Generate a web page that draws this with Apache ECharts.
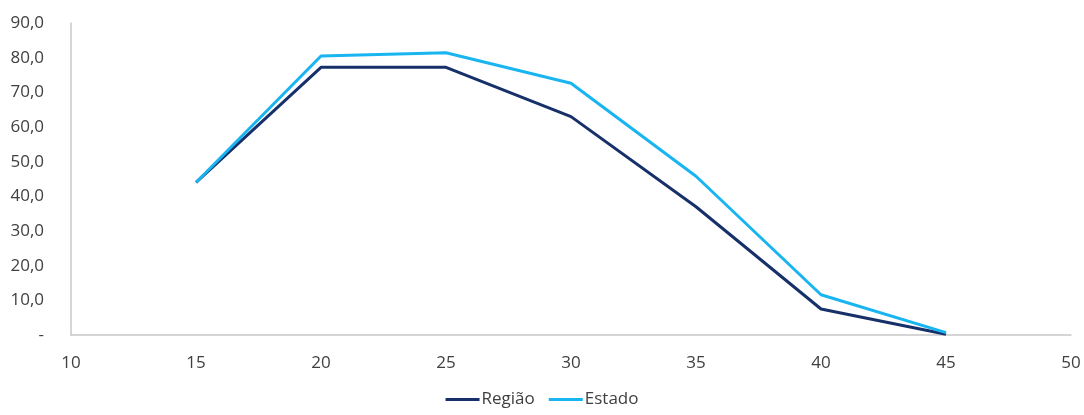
<!DOCTYPE html>
<html>
<head>
<meta charset="utf-8">
<script src="https://cdn.jsdelivr.net/npm/echarts@6/dist/echarts.min.js"></script>
<style>
  html, body { margin: 0; padding: 0; background: #fff; }
  #chart { width: 1084px; height: 415px; }
</style>
</head>
<body>
<div id="chart"></div>
<script>
var idades = [15, 20, 25, 30, 35, 40, 45];
var regiao = [44.0, 77.2, 77.2, 63.0, 37.0, 7.5, 0.2];
var estado = [44.0, 80.5, 81.4, 72.6, 45.8, 11.6, 0.7];

function pares(xs, ys) {
    return xs.map(function (x, i) { return [x, ys[i]]; });
}

var chart = echarts.init(document.getElementById('chart'));

var option = {
    animation: false,
    textStyle: { fontFamily: 'Open Sans' },
    grid: { left: 71, right: 13, top: 23, bottom: 80 },
    legend: {
        data: ['Região', 'Estado'],
        bottom: 2,
        left: 'center',
        itemWidth: 34,
        itemHeight: 3,
        itemGap: 14,
        icon: 'rect',
        textStyle: { color: '#404040', fontSize: 17, padding: [0, 0, 0, -3] }
    },
    xAxis: {
        type: 'value',
        min: 10,
        max: 50,
        interval: 5,
        axisLine: { lineStyle: { color: '#c8c8c8', width: 1.5 } },
        axisTick: { show: false },
        splitLine: { show: false },
        axisLabel: { color: '#404040', fontSize: 17, margin: 20 }
    },
    yAxis: {
        type: 'value',
        min: 0,
        max: 90,
        interval: 10,
        axisLine: { show: true, lineStyle: { color: '#c8c8c8', width: 1.5 } },
        axisTick: { show: false },
        splitLine: { show: false },
        axisLabel: {
            color: '#404040',
            fontSize: 17,
            margin: 27,
            align: 'right',
            formatter: function (v) {
                return v === 0 ? '-' : v.toFixed(1).replace('.', ',');
            }
        }
    },
    series: [
        {
            name: 'Região',
            type: 'line',
            data: pares(idades, regiao),
            symbol: 'none',
            color: '#17306a',
            lineStyle: { width: 3, color: '#17306a' }
        },
        {
            name: 'Estado',
            type: 'line',
            data: pares(idades, estado),
            symbol: 'none',
            color: '#19b5f1',
            lineStyle: { width: 3, color: '#19b5f1' }
        }
    ]
};

chart.setOption(option);
</script>
</body>
</html>
